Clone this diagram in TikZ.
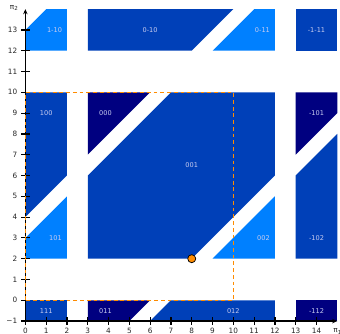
\documentclass[tikz,border=0pt]{standalone}
\usepackage{fontspec}
\setmainfont{DejaVu Sans}
\usetikzlibrary{arrows.meta}
\definecolor{CellDark}{HTML}{000080}
\definecolor{CellMid}{HTML}{0040B8}
\definecolor{CellLight}{HTML}{0080FF}
\definecolor{CellText}{HTML}{C8CCF0}
\definecolor{BoxOrange}{HTML}{FF8C00}
\newcommand{\axisname}[1]{π\raisebox{-0.35ex}{\fontsize{3.8}{4}\selectfont #1}}

\begin{document}
\begin{tikzpicture}[x=0.5cm,y=0.5cm,
    darkcell/.style={fill=CellDark},
    midcell/.style={fill=CellMid},
    lightcell/.style={fill=CellLight},
    lbl/.style={text=CellText,inner sep=0pt,font=\fontsize{4.5}{5}\selectfont},
    ticklbl/.style={inner sep=0pt,text=black!85,font=\fontsize{5}{6}\selectfont},
    axisline/.style={black,line width=0.8pt},
    period/.style={BoxOrange,line width=0.7pt,dash pattern=on 2.6pt off 2pt},
    dot/.style={circle,draw=black,fill=BoxOrange,line width=0.5pt,inner sep=0pt,minimum size=5.5pt}]
  \useasboundingbox (-1.22,-1.62) rectangle (15.13,14.44);
  % row pi2 in [12,14]
  \fill[lightcell] (0,12) -- (2,12) -- (2,14) -- (1,14) -- (0,13) -- cycle;
  \fill[midcell] (3,12) -- (8,12) -- (10,14) -- (3,14) -- cycle;
  \fill[lightcell] (9,12) -- (12,12) -- (12,14) -- (11,14) -- cycle;
  \fill[midcell] (13,12) rectangle (15,14);
  % row pi2 in [2,10]
  \fill[midcell] (0,4) -- (2,6) -- (2,10) -- (0,10) -- cycle;
  \fill[lightcell] (0,2) -- (2,2) -- (2,5) -- (0,3) -- cycle;
  \fill[darkcell] (3,7) -- (6,10) -- (3,10) -- cycle;
  \fill[midcell] (3,2) -- (8,2) -- (12,6) -- (12,10) -- (7,10) -- (3,6) -- cycle;
  \fill[lightcell] (9,2) -- (12,2) -- (12,5) -- cycle;
  \fill[darkcell] (13,7) -- (15,9) -- (15,10) -- (13,10) -- cycle;
  \fill[midcell] (13,2) -- (15,2) -- (15,8) -- (13,6) -- cycle;
  % row pi2 in [-1,0]
  \fill[midcell] (0,-1) rectangle (2,0);
  \fill[darkcell] (3,-1) -- (5,-1) -- (6,0) -- (3,0) -- cycle;
  \fill[midcell] (6,-1) -- (12,-1) -- (12,0) -- (7,0) -- cycle;
  \fill[darkcell] (13,-1) rectangle (15,0);

  % cell labels
  \node[lbl] (c1m10) at (1.4,13) {1-10};
  \node[lbl] (c0m10) at (6,13) {0-10};
  \node[lbl] (c0m11) at (11.4,13) {0-11};
  \node[lbl] (cm1m11) at (14,13) {-1-11};
  \node[lbl] (c100) at (1,9) {100};
  \node[lbl] (c000) at (3.85,9) {000};
  \node[lbl] (cm101) at (14,9) {-101};
  \node[lbl] (c001) at (8,6.5) {001};
  \node[lbl] (c101) at (1.45,3) {101};
  \node[lbl] (c002) at (11.45,3) {002};
  \node[lbl] (cm102) at (14,3) {-102};
  \node[lbl] (c111) at (1,-0.5) {111};
  \node[lbl] (c011) at (3.85,-0.5) {011};
  \node[lbl] (c012) at (10,-0.5) {012};
  \node[lbl] (cm112) at (14,-0.5) {-112};

  % axes
  \draw[axisline,-{Stealth[length=3.5pt,width=3pt]}] (0,-1) -- (15,-1);
  \draw[axisline,-{Stealth[length=3.5pt,width=3pt]}] (0,-1) -- (0,14);
  \foreach \i in {0,...,14} {
    \draw[axisline] (\i,-1.18) -- (\i,-0.82);
    \node[ticklbl] (x\i) at (\i,-1.45) {\i};
  }
  \foreach \j in {-1,...,13} \draw[axisline] (-0.2,\j) -- (0.2,\j);
  \foreach \j in {0,...,13} \node[ticklbl,anchor=east] (y\j) at (-0.38,\j) {\j};
  \node[ticklbl,anchor=east] (ym1) at (-0.38,-1) {−1};
  \node[ticklbl,anchor=west] (pi1) at (14.8,-1.5) {\axisname{1}};
  \node[ticklbl] (pi2) at (-0.55,14.05) {\axisname{2}};

  % period box and point
  \draw[period] (0,0) rectangle (10,10);
  \node[dot] (pt) at (8,2) {};
\end{tikzpicture}
\end{document}
